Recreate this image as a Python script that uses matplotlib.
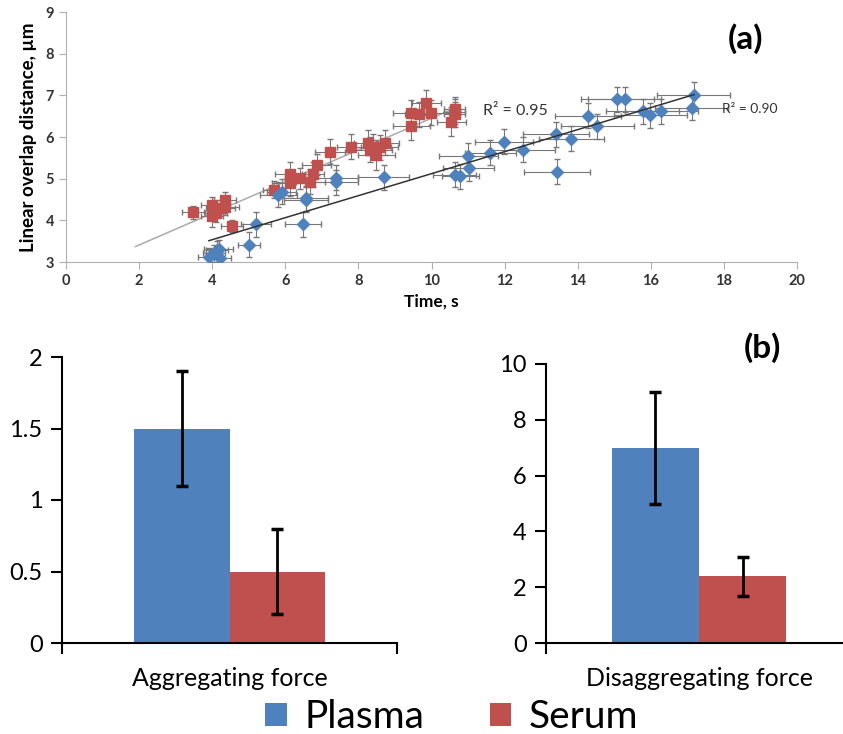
import numpy as np
import matplotlib
matplotlib.use("Agg")
import matplotlib.pyplot as plt

plt.rcParams['font.family'] = ['Lato', 'DejaVu Sans']

# --- panel (a): overlap distance vs time ---
plasma_t = [3.91, 4.04, 4.13, 4.22, 4.18, 5.0, 5.20, 5.81, 5.90, 6.49, 6.57, 6.57, 7.38, 7.38, 8.69,
            10.63, 10.79, 11.01, 11.02, 11.61, 11.99, 12.49, 13.40, 13.44, 13.83, 14.29, 14.53,
            15.08, 15.29, 15.78, 15.99, 16.29, 17.12, 17.18]
plasma_d = [3.13, 3.21, 3.30, 3.09, 3.32, 3.41, 3.91, 4.61, 4.69, 3.91, 4.53, 4.50, 5.02, 4.91, 5.04,
            5.09, 5.06, 5.55, 5.25, 5.62, 5.89, 5.70, 6.07, 5.17, 5.96, 6.51, 6.26,
            6.91, 6.91, 6.62, 6.52, 6.62, 6.70, 7.01]
plasma_terr = [0.3, 0.3, 0.3, 0.3, 0.4, 0.3, 0.4, 0.5, 0.4, 0.5, 0.6, 0.6, 0.6, 0.6, 0.7,
               0.6, 0.5, 0.8, 0.7, 0.7, 0.8, 0.9, 0.9, 0.9, 0.9, 0.9, 1.0,
               1.0, 1.0, 1.0, 1.0, 1.0, 1.0, 1.0]
plasma_derr = [0.2, 0.2, 0.2, 0.2, 0.2, 0.3, 0.3, 0.3, 0.3, 0.3, 0.3, 0.3, 0.3, 0.3, 0.3,
               0.3, 0.3, 0.3, 0.3, 0.3, 0.3, 0.3, 0.3, 0.3, 0.3, 0.3, 0.3,
               0.3, 0.3, 0.3, 0.3, 0.3, 0.3, 0.3]

serum_t = [3.48, 4.0, 4.0, 4.11, 4.22, 4.34, 4.34, 4.54, 5.68, 6.13, 6.13, 6.40, 6.68, 6.77, 6.86,
           7.22, 7.81, 8.27, 8.31, 8.40, 8.49, 8.58, 8.72, 9.45, 9.45, 9.67, 9.86, 9.99,
           10.54, 10.63, 10.63, 10.63]
serum_d = [4.19, 4.37, 4.10, 4.17, 4.30, 4.49, 4.33, 3.86, 4.74, 5.11, 4.89, 5.01, 4.93, 5.11, 5.34,
           5.65, 5.77, 5.86, 5.69, 5.77, 5.57, 5.75, 5.86, 6.58, 6.27, 6.55, 6.82, 6.58,
           6.37, 6.61, 6.55, 6.67]
serum_terr = [0.3, 0.3, 0.3, 0.3, 0.4, 0.3, 0.4, 0.3, 0.3, 0.4, 0.5, 0.4, 0.4, 0.3, 0.4,
              0.4, 0.4, 0.4, 0.6, 0.5, 0.5, 0.5, 0.4, 0.5, 0.5, 0.4, 0.4, 0.5,
              0.4, 0.3, 0.3, 0.3]
serum_derr = [0.15, 0.2, 0.25, 0.2, 0.2, 0.2, 0.2, 0.15, 0.2, 0.3, 0.3, 0.25, 0.3, 0.3, 0.25,
              0.3, 0.3, 0.3, 0.3, 0.3, 0.35, 0.3, 0.3, 0.3, 0.35, 0.3, 0.3, 0.3,
              0.35, 0.3, 0.3, 0.3]

# --- panel (b): forces ---
groups = ['Plasma', 'Serum']
aggr = [1.5, 0.5]
aggr_err = [0.4, 0.3]
disaggr = [7.0, 2.4]
disaggr_err = [2.0, 0.7]

blue = '#4f81bd'
red = '#c0504d'
W, H = 843, 734

fig = plt.figure(figsize=(W / 100, H / 100), dpi=100)

ax = fig.add_axes([66 / W, 1 - 262 / H, 731 / W, 250 / H])
ax.errorbar(serum_t, serum_d, xerr=serum_terr, yerr=serum_derr, fmt='s', ms=6.5,
            color=red, ecolor='#777777', elinewidth=0.8, capsize=2, zorder=3)
ax.errorbar(plasma_t, plasma_d, xerr=plasma_terr, yerr=plasma_derr, fmt='D', ms=6.5,
            color=blue, ecolor='#777777', elinewidth=0.8, capsize=2, zorder=3)

# linear trend lines
k, b = np.polyfit(plasma_t, plasma_d, 1)
xs = np.array([min(plasma_t), max(plasma_t)])
ax.plot(xs, k * xs + b, color='#333333', lw=1.1, zorder=4)
k, b = np.polyfit(serum_t, serum_d, 1)
xs = np.array([1.9, max(serum_t)])
ax.plot(xs, k * xs + b, color='#aaaaaa', lw=1.1, zorder=2)

ax.text(11.4, 6.62, 'R² = 0.95', fontsize=11.5, color='#333333', va='center')
ax.text(17.95, 6.67, 'R² = 0.90', fontsize=10, color='#333333', va='center')
ax.text(18.6, 8.35, '(a)', fontsize=24, fontweight='bold', ha='center', va='center')

ax.set_xlim(0, 20)
ax.set_ylim(3, 9)
ax.set_xticks(range(0, 21, 2))
ax.set_yticks(range(3, 10))
for s in ['top', 'right']:
    ax.spines[s].set_visible(False)
for s in ['left', 'bottom']:
    ax.spines[s].set_color('#b0b0b0')
ax.tick_params(colors='#b0b0b0', length=5, labelsize=10.5, labelcolor='#333333')
for lbl in ax.get_xticklabels() + ax.get_yticklabels():
    lbl.set_fontweight('bold')
ax.set_xlabel('Time, s', fontsize=12.5, fontweight='bold', labelpad=4)
ax.set_ylabel('Linear overlap distance, µm', fontsize=13.5, fontweight='bold', labelpad=6)


def bar_panel(rect, vals, errs, ymax, yticks, label):
    a = fig.add_axes(rect)
    bw = 0.285
    bars = []
    for i, (v, e, c) in enumerate(zip(vals, errs, [blue, red])):
        pos = (i - 0.5) * bw
        bars.append(a.bar(pos, v, width=bw, color=c, label=groups[i]))
        a.errorbar(pos, v, yerr=e, color='black', lw=2, capsize=4, capthick=2.5)
    a.set_xlim(-0.5, 0.5)
    a.set_ylim(0, ymax)
    a.set_yticks(yticks)
    a.set_yticklabels([f'{t:g}' for t in yticks])
    a.set_xticks([0])
    a.set_xticklabels([label])
    a.set_xticks([-0.5, 0.5], minor=True)
    a.tick_params(axis='x', which='major', length=0, pad=17, labelsize=18)
    a.tick_params(axis='x', which='minor', length=8, width=1.5)
    a.tick_params(axis='y', length=8, width=1.5, labelsize=17, pad=6)
    for s in ['top', 'right']:
        a.spines[s].set_visible(False)
    for s in ['left', 'bottom']:
        a.spines[s].set_linewidth(1.5)
    return bars


bars = bar_panel([62 / W, 1 - 643 / H, 335 / W, 286 / H], aggr, aggr_err, 2,
                 [0, 0.5, 1, 1.5, 2], 'Aggregating force')
bar_panel([546 / W, 1 - 643 / H, 306 / W, 279 / H], disaggr, disaggr_err, 10,
          [0, 2, 4, 6, 8, 10], 'Disaggregating force')

fig.text(762 / W, 1 - 348 / H, '(b)', fontsize=24, fontweight='bold', ha='center', va='center')

fig.legend([bars[0], bars[1]], groups, loc='center', bbox_to_anchor=(0.536, 1 - 717 / H),
           ncol=2, frameon=False, fontsize=28, handlelength=0.55, handleheight=0.55,
           handletextpad=0.45, columnspacing=1.7)

fig.savefig('out.png', dpi=100)
